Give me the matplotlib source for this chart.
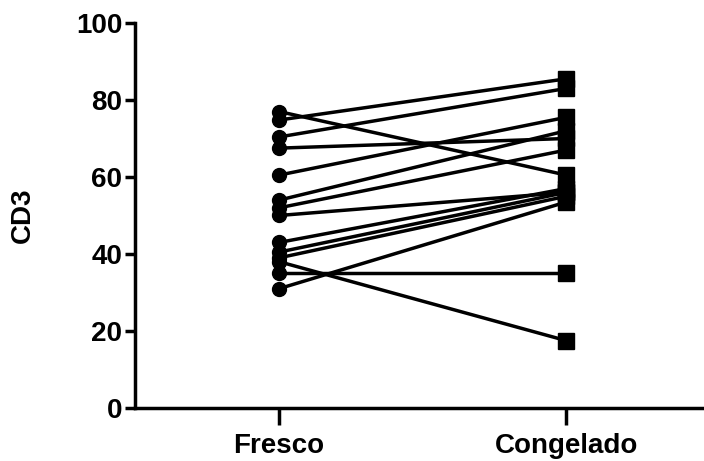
import numpy as np
import matplotlib.pyplot as plt

plt.rcParams['font.family'] = ['Liberation Sans', 'DejaVu Sans']
plt.rcParams['font.weight'] = 'bold'

categories = ["Fresco", "Congelado"]
fresco = [77, 74.8, 70.4, 67.5, 60.5, 54, 52, 50, 43, 40.5, 39, 38, 35, 31]
congelado = [60.5, 85.5, 83, 70, 75.5, 72, 67, 56, 57, 56, 55, 17.5, 35, 53.5]
yticks = [0, 20, 40, 60, 80, 100]

fig = plt.figure(figsize=(7.04, 4.61), dpi=100)
ax = fig.add_axes([135/704, 53/461, 569/704, 385/461])

for a, b in zip(fresco, congelado):
    ax.plot([0, 1], [a, b], color='black', lw=2.5, zorder=2)
ax.plot(np.zeros(len(fresco)), fresco, 'o', color='black', ms=10, zorder=3)
ax.plot(np.ones(len(congelado)), congelado, 's', color='black', ms=11, zorder=3)

ax.set_xlim(-0.502, 1.48)
ax.set_ylim(0, 100)
ax.set_xticks([0, 1])
ax.set_xticklabels(categories, fontsize=20, fontweight='bold')
ax.set_yticks(yticks)
ax.set_yticklabels([str(t) for t in yticks], fontsize=20, fontweight='bold')
ax.set_ylabel("CD3", fontsize=20, fontweight='bold', labelpad=29)

for s in ['top', 'right']:
    ax.spines[s].set_visible(False)
for s in ['left', 'bottom']:
    ax.spines[s].set_linewidth(2.5)
ax.tick_params(width=2.5, length=7, pad=2)
ax.tick_params(axis='x', length=12, pad=6)

fig.savefig("out.png", dpi=100)
